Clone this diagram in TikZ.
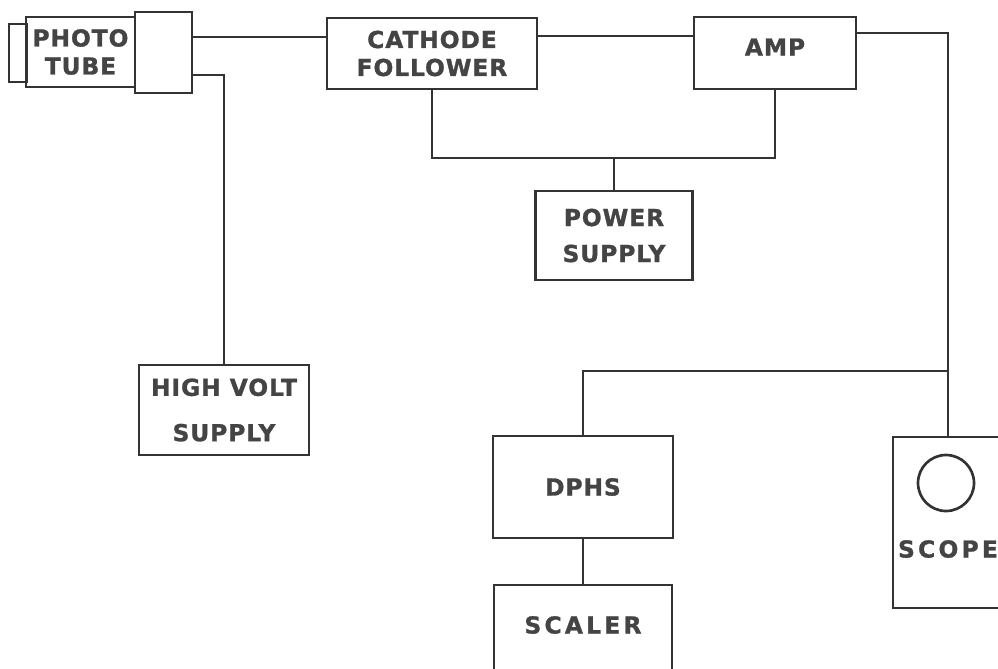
\documentclass[tikz,border=0pt]{standalone}
\usepackage{fontspec}
\setmainfont{DejaVu Sans}[LetterSpace=4,BoldFeatures={FakeBold=1.2}]
\definecolor{ink}{HTML}{333333}
\definecolor{txt}{HTML}{444444}
\begin{document}
\begin{tikzpicture}[x=0.75pt,y=-0.75pt,line width=2pt,every node/.style={inner sep=1pt,text=txt,font=\bfseries\fontsize{17.5}{21}\selectfont}]
\tikzstyle{box}=[draw=ink,line width=2pt,align=center]
\tikzstyle{wire}=[draw=ink,line width=1.9pt]
\clip (0,0) rectangle (998,668);

% photo tube
\node[box,minimum width=13.5pt,minimum height=43.5pt](cap) at (18,53){};
\node[box,minimum width=81.75pt,minimum height=52.5pt](tube) at (80.5,52){PHOTO\\TUBE};
\node[box,minimum width=42.75pt,minimum height=60.75pt](base) at (163.5,52.5){};

\node[box,minimum width=157.5pt,minimum height=53.25pt](cf) at (432,53.5){CATHODE\\FOLLOWER};
\node[box,minimum width=121.5pt,minimum height=54pt,label={[yshift=4.5pt]center:AMP}](amp) at (775,53){};
\node[box,minimum width=117.75pt,minimum height=66.75pt](ps) at (614,235.5){POWER\\[6pt]SUPPLY};
\node[box,minimum width=127.5pt,minimum height=67.5pt](hv) at (224,410){HIGH VOLT\\[13pt]SUPPLY};

\node[box,minimum width=135pt,minimum height=76.5pt](dphs) at (583,487){DPHS};
\node[box,minimum width=133.5pt,minimum height=67.5pt,label={[yshift=3.75pt]center:{\addfontfeature{LetterSpace=14}SCALER}}](scal) at (583,630){};
\node[box,minimum width=82.5pt,minimum height=128.25pt,label={[yshift=-19.9pt]center:{\addfontfeature{LetterSpace=14}SCOPE}}](scope) at (948,522.5){};
\node[box,circle,minimum size=42pt](screen) at (946,483){};

\coordinate(bus) at (614,158);
\coordinate(tap) at (948,371);

\path[wire](base.east|-0,37)--(cf.west|-0,37);
\path[wire](base.east|-0,75)-|(hv.north);
\path[wire](cf.east|-0,36)--(amp.west|-0,36);
\path[wire](cf.south)|-(bus)-|(amp.south);
\path[wire](bus)--(ps.north);
\path[wire](amp.east|-0,33)-|(scope.north);
\path[wire](tap)-|(dphs.north);
\path[wire](dphs.south)--(scal.north);
\end{tikzpicture}
\end{document}
